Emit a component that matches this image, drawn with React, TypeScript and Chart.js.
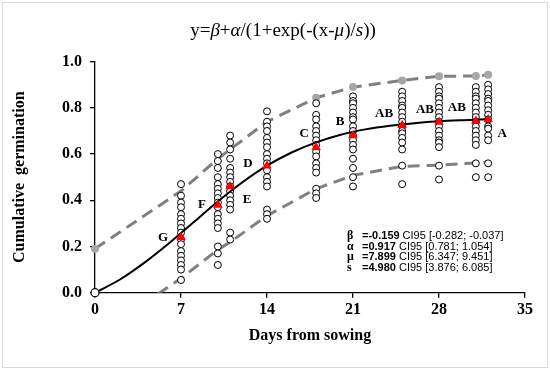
import React, { useEffect, useRef } from "react";
import { Chart, registerables } from "chart.js";

Chart.register(...registerables);

// ---------- data ----------
const days = [7, 10, 11, 14, 18, 21, 25, 28, 31, 32];
const obsDay7 = [0.47, 0.42, 0.39, 0.37, 0.34, 0.32, 0.3, 0.28, 0.26, 0.23, 0.21, 0.18, 0.16, 0.14, 0.12, 0.1, 0.055];
const obsDay10 = [0.6, 0.57, 0.54, 0.5, 0.47, 0.45, 0.43, 0.41, 0.39, 0.37, 0.34, 0.32, 0.3, 0.28, 0.2, 0.17, 0.12];
const obsDay11 = [0.68, 0.65, 0.62, 0.58, 0.54, 0.52, 0.5, 0.48, 0.46, 0.44, 0.42, 0.4, 0.38, 0.36, 0.26, 0.23];
const obsDay14 = [0.785, 0.74, 0.72, 0.7, 0.67, 0.65, 0.63, 0.6, 0.58, 0.56, 0.53, 0.5, 0.48, 0.46, 0.36, 0.34, 0.32];
const obsDay18 = [0.82, 0.77, 0.75, 0.72, 0.7, 0.68, 0.66, 0.64, 0.61, 0.59, 0.56, 0.54, 0.52, 0.45, 0.43, 0.41];
const obsDay21 = [0.85, 0.83, 0.82, 0.8, 0.78, 0.76, 0.75, 0.72, 0.7, 0.68, 0.66, 0.64, 0.62, 0.58, 0.54, 0.5, 0.46];
const obsDay25 = [0.87, 0.85, 0.83, 0.81, 0.8, 0.78, 0.76, 0.74, 0.72, 0.7, 0.69, 0.67, 0.65, 0.62, 0.55, 0.47];
const obsDay28 = [0.89, 0.87, 0.85, 0.84, 0.82, 0.8, 0.78, 0.76, 0.74, 0.72, 0.7, 0.68, 0.66, 0.65, 0.63, 0.55, 0.49];
const obsDay31 = [0.89, 0.87, 0.85, 0.84, 0.82, 0.8, 0.78, 0.76, 0.74, 0.72, 0.7, 0.68, 0.66, 0.64, 0.56, 0.5];
const obsDay32 = [0.9, 0.88, 0.86, 0.84, 0.83, 0.81, 0.79, 0.77, 0.75, 0.72, 0.71, 0.68, 0.66, 0.56, 0.5];
const observations = [obsDay7, obsDay10, obsDay11, obsDay14, obsDay18, obsDay21, obsDay25, obsDay28, obsDay31, obsDay32];

const means = [0.24, 0.38, 0.46, 0.55, 0.63, 0.68, 0.725, 0.739, 0.743, 0.75];
const groupLetters = ["G", "F", "E", "D", "C", "B", "AB", "AB", "AB", "A"];

const curveDays = [0, 2, 4, 6, 8, 10, 12, 14, 16, 18, 20, 22, 24, 26, 28, 30, 32];
const curveValues = [0.0, 0.056, 0.129, 0.213, 0.304, 0.395, 0.478, 0.55, 0.607, 0.651, 0.684, 0.707, 0.723, 0.734, 0.742, 0.747, 0.751];

const bandDays = [0, 7, 10, 11, 14, 18, 21, 25, 28, 31, 32];
const upperBand = [0.19, 0.44, 0.58, 0.62, 0.74, 0.844, 0.89, 0.919, 0.937, 0.938, 0.943];
const lowerBand = [-0.19, 0.062, 0.186, 0.219, 0.333, 0.45, 0.508, 0.547, 0.552, 0.562, 0.565];

const xTicks = [0, 7, 14, 21, 28, 35];
const yTicks = [0, 0.2, 0.4, 0.6, 0.8, 1.0];

const paramSymbols = ["β", "α", "μ", "s"];
const paramValues = ["=-0.159", "=0.917", "=7.899", "=4.980"];
const paramCIs = ["CI95 [-0.282; -0.037]", "CI95 [0.781; 1.054]", "CI95 [6.347; 9.451]", "CI95 [3.876; 6.085]"];

const titleParts: [string, boolean][] = [
  ["y=", false], ["β", true], ["+", false], ["α", true], ["/(1+exp(-(x-", false],
  ["μ", true], [")/", false], ["s", true], ["))", false],
];

// letter offsets (px) relative to the mean marker
const letterOffsets: [number, number][] = [
  [-18, 0], [-16, 0], [17, 13], [-19, -2], [-12, -14], [-13, -14], [-18, -12], [-14, -12], [-19, -13], [14, 14],
];

const SERIF = "'Liberation Serif', 'Times New Roman', serif";
const SANS = "'Liberation Sans', Arial, sans-serif";

const overlayPlugin = {
  id: "overlay",
  afterDraw(chart: any) {
    const ctx = chart.ctx as CanvasRenderingContext2D;
    const xs = chart.scales.x;
    const ys = chart.scales.y;
    ctx.save();

    // frame
    ctx.strokeStyle = "#d9d9d9";
    ctx.lineWidth = 1;
    ctx.strokeRect(2.5, 2.5, 545, 365);

    // title
    ctx.fillStyle = "#000";
    ctx.textBaseline = "middle";
    ctx.textAlign = "left";
    const size = 19;
    let total = 0;
    for (const [t, it] of titleParts) {
      ctx.font = `${it ? "italic " : ""}${size}px ${SERIF}`;
      total += ctx.measureText(t).width;
    }
    let tx = 283 - total / 2;
    for (const [t, it] of titleParts) {
      ctx.font = `${it ? "italic " : ""}${size}px ${SERIF}`;
      ctx.fillText(t, tx, 31);
      tx += ctx.measureText(t).width;
    }

    // axis titles
    ctx.font = `bold 16px ${SERIF}`;
    ctx.textAlign = "center";
    ctx.fillText("Days from sowing", (xs.left + xs.right) / 2, 336);
    ctx.save();
    ctx.translate(20, (ys.top + ys.bottom) / 2);
    ctx.rotate(-Math.PI / 2);
    ctx.fillText("Cumulative  germination", 0, 0);
    ctx.restore();

    // group letters
    ctx.font = `bold 13px ${SERIF}`;
    ctx.textAlign = "center";
    for (let i = 0; i < days.length; i++) {
      const px = xs.getPixelForValue(days[i]) + letterOffsets[i][0];
      const py = ys.getPixelForValue(means[i]) + letterOffsets[i][1];
      ctx.fillText(groupLetters[i], px, py);
    }

    // parameter box
    ctx.textAlign = "left";
    const rowY = [236, 246.5, 257, 267.5];
    for (let i = 0; i < paramSymbols.length; i++) {
      ctx.font = `bold 12px ${SERIF}`;
      ctx.fillText(paramSymbols[i], 347, rowY[i]);
      ctx.font = `bold 11px ${SANS}`;
      ctx.fillText(paramValues[i], 362, rowY[i]);
      const w = ctx.measureText(paramValues[i]).width;
      ctx.font = `11px ${SANS}`;
      ctx.fillText(paramCIs[i], 362 + w + 3, rowY[i]);
    }
    ctx.restore();
  },
};

export default function App() {
  const ref = useRef<HTMLCanvasElement | null>(null);

  useEffect(() => {
    if (!ref.current) return;
    const obsPoints: { x: number; y: number }[] = [];
    observations.forEach((arr, i) => arr.forEach((v) => obsPoints.push({ x: days[i], y: v })));

    const chart = new Chart(ref.current, {
      type: "scatter",
      data: {
        datasets: [
          {
            label: "upper",
            data: bandDays.map((d, i) => ({ x: d, y: upperBand[i] })),
            showLine: true,
            borderColor: "#808080",
            borderWidth: 3,
            borderDash: [12, 7],
            pointRadius: [4, 0, 0, 0, 0, 4, 4, 4, 4, 4, 4],
            pointBackgroundColor: "#a6a6a6",
            pointBorderWidth: 0,
            clip: false,
            order: 6,
          } as any,
          {
            label: "lower",
            data: bandDays.map((d, i) => ({ x: d, y: lowerBand[i] })),
            showLine: true,
            borderColor: "#808080",
            borderWidth: 3,
            borderDash: [12, 7],
            pointRadius: 0,
            order: 6,
          } as any,
          {
            label: "obs",
            data: obsPoints,
            pointRadius: 3.5,
            pointBackgroundColor: "#fff",
            pointBorderColor: "#000",
            pointBorderWidth: 1,
            order: 4,
          } as any,
          {
            label: "curve",
            data: curveDays.map((d, i) => ({ x: d, y: curveValues[i] })),
            showLine: true,
            borderColor: "#000",
            borderWidth: 2,
            pointRadius: 0,
            cubicInterpolationMode: "monotone",
            order: 3,
          } as any,
          {
            label: "origin",
            data: [{ x: 0, y: 0 }],
            pointRadius: 4,
            pointBackgroundColor: "#fff",
            pointBorderColor: "#000",
            pointBorderWidth: 1.2,
            clip: false,
            order: 2,
          } as any,
          {
            label: "means",
            data: days.map((d, i) => ({ x: d, y: means[i] })),
            pointStyle: "triangle",
            pointRadius: 5.5,
            pointBackgroundColor: "#ff0000",
            pointBorderColor: "#ff0000",
            pointBorderWidth: 0,
            order: 1,
          } as any,
        ],
      },
      options: {
        animation: false,
        responsive: false,
        events: [],
        layout: { padding: { top: 61.7, right: 25, left: 0, bottom: 0 } },
        plugins: { legend: { display: false }, tooltip: { enabled: false }, title: { display: false } },
        scales: {
          x: {
            type: "linear",
            min: 0,
            max: 35,
            afterBuildTicks: (s: any) => { s.ticks = xTicks.map((v) => ({ value: v })); },
            afterFit: (s: any) => { s.height = 77.3; },
            ticks: { color: "#000", font: { family: SERIF, size: 16, weight: "bold" }, padding: 3 },
            grid: { drawOnChartArea: false, drawTicks: true, tickLength: 5, color: "#000", lineWidth: 1.3 },
            border: { color: "#000", width: 1.3 },
          },
          y: {
            type: "linear",
            min: 0,
            max: 1,
            afterBuildTicks: (s: any) => { s.ticks = yTicks.map((v) => ({ value: v })); },
            afterFit: (s: any) => { s.width = 95; },
            ticks: {
              color: "#000",
              font: { family: SERIF, size: 16, weight: "bold" },
              padding: 8,
              callback: (v: any) => Number(v).toFixed(1),
            },
            grid: { drawOnChartArea: false, drawTicks: true, tickLength: 5, color: "#000", lineWidth: 1.3 },
            border: { color: "#000", width: 1.3 },
          },
        },
      } as any,
      plugins: [overlayPlugin],
    });
    return () => chart.destroy();
  }, []);

  return (
    <div style={{ position: "absolute", left: 0, top: 0, width: 550, height: 370, background: "#fff" }}>
      <canvas ref={ref} width={550} height={370} style={{ display: "block", width: 550, height: 370 }} />
    </div>
  );
}
